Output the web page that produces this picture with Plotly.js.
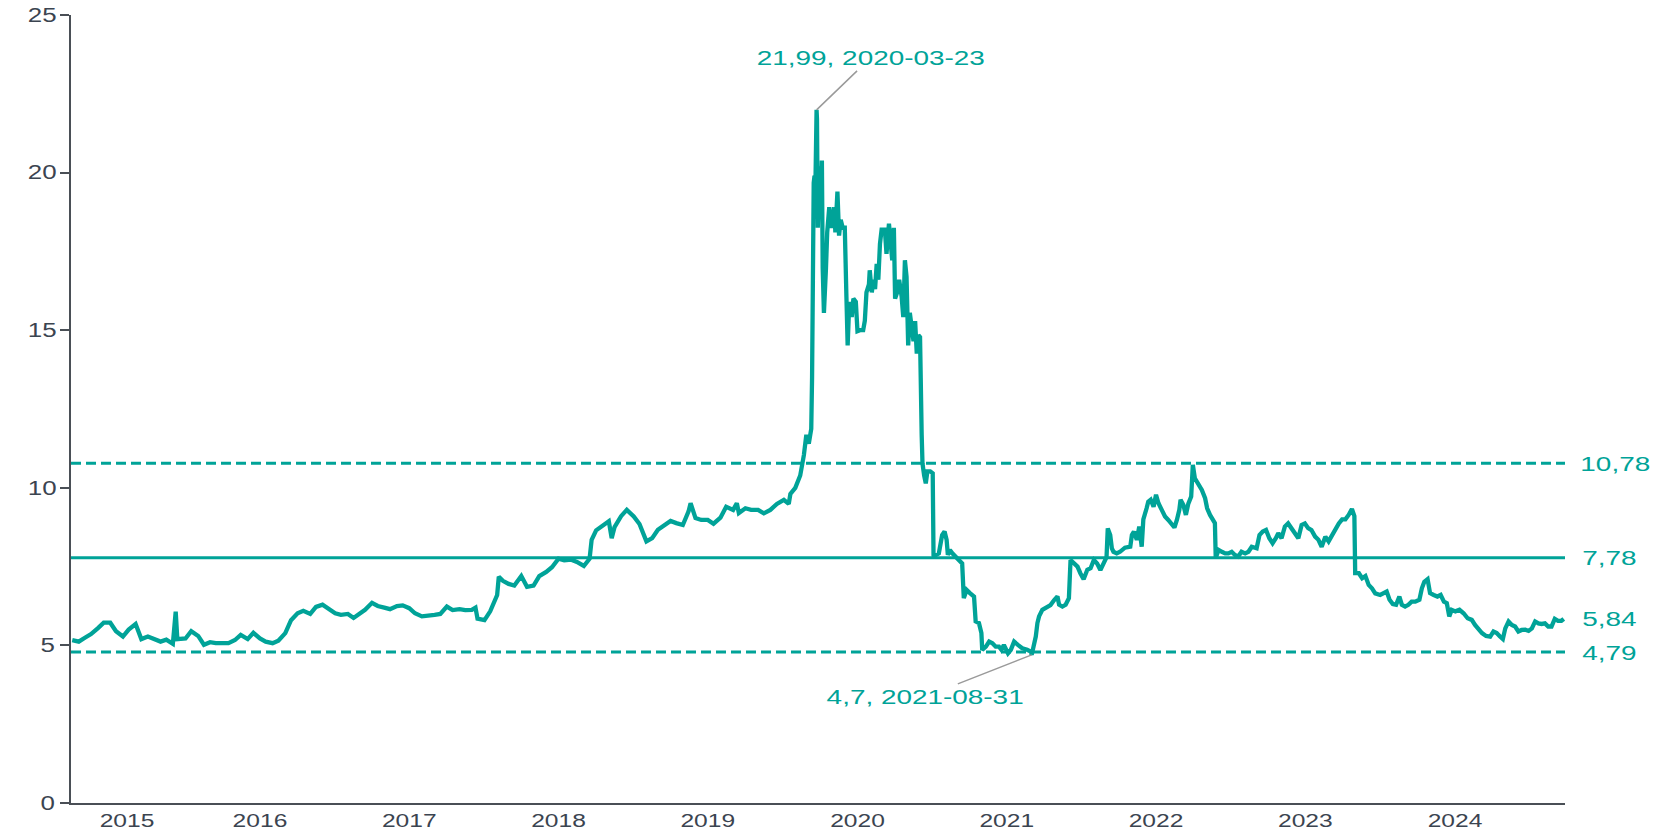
<!DOCTYPE html>
<html>
<head>
<meta charset="utf-8">
<script src="https://cdn.plot.ly/plotly-3.0.1.min.js"></script>
<style>
html,body{margin:0;padding:0;background:#fff;}
#chart{width:1657px;height:832px;}
</style>
</head>
<body>
<div id="chart"></div>
<script>
// ---- data ----
const dates = [
"2015-03-30","2015-04-15","2015-05-01","2015-05-15","2015-06-01","2015-06-15","2015-07-01","2015-07-15","2015-08-01","2015-08-15",
"2015-09-01","2015-09-15","2015-10-01","2015-10-15","2015-11-01","2015-11-15","2015-12-01","2015-12-08","2015-12-12","2016-01-01",
"2016-01-15","2016-02-01","2016-02-15","2016-03-01","2016-03-15","2016-04-01","2016-04-15","2016-05-01","2016-05-15","2016-06-01",
"2016-06-15","2016-07-01","2016-07-15","2016-08-01","2016-08-15","2016-09-01","2016-09-15","2016-10-01","2016-10-15","2016-11-01",
"2016-11-15","2016-12-01","2016-12-15","2017-01-01","2017-01-15","2017-02-01","2017-02-15","2017-03-01","2017-03-15","2017-04-01",
"2017-04-15","2017-05-01","2017-05-15","2017-06-01","2017-06-15","2017-07-01","2017-07-15","2017-08-01","2017-08-15","2017-09-01",
"2017-09-15","2017-10-01","2017-10-15","2017-11-01","2017-11-15","2017-12-01","2017-12-10","2017-12-15","2018-01-01","2018-01-15",
"2018-02-01","2018-02-05","2018-02-15","2018-03-01","2018-03-15","2018-04-01","2018-04-15","2018-05-01","2018-05-15","2018-06-01",
"2018-06-15","2018-07-01","2018-07-15","2018-08-01","2018-08-15","2018-09-01","2018-09-15","2018-09-20","2018-10-01","2018-10-15",
"2018-11-01","2018-11-08","2018-11-15","2018-12-01","2018-12-15","2019-01-01","2019-01-15","2019-02-01","2019-02-15","2019-03-01",
"2019-03-15","2019-04-01","2019-04-15","2019-05-01","2019-05-15","2019-05-20","2019-06-01","2019-06-15","2019-07-01","2019-07-15",
"2019-08-01","2019-08-15","2019-09-01","2019-09-10","2019-09-15","2019-10-01","2019-10-15","2019-11-01","2019-11-15","2019-12-01",
"2019-12-17","2020-01-03","2020-01-15","2020-01-19","2020-01-31","2020-02-12","2020-02-21","2020-02-27","2020-03-04","2020-03-10",
"2020-03-12","2020-03-13","2020-03-16","2020-03-18","2020-03-19","2020-03-23","2020-03-24","2020-03-26","2020-03-30","2020-04-02",
"2020-04-05","2020-04-07","2020-04-10","2020-04-15","2020-04-18","2020-04-23","2020-04-27","2020-05-01","2020-05-05","2020-05-08",
"2020-05-13","2020-05-17","2020-05-21","2020-05-26","2020-05-31","2020-06-04","2020-06-07","2020-06-11","2020-06-17","2020-06-21",
"2020-06-27","2020-07-01","2020-07-07","2020-07-15","2020-07-19","2020-07-23","2020-07-29","2020-07-31","2020-08-05","2020-08-09",
"2020-08-13","2020-08-17","2020-08-21","2020-08-25","2020-08-29","2020-09-06","2020-09-10","2020-09-16","2020-09-20","2020-09-24",
"2020-09-28","2020-10-01","2020-10-06","2020-10-11","2020-10-17","2020-10-21","2020-10-25","2020-10-29","2020-11-02","2020-11-06",
"2020-11-10","2020-11-15","2020-11-19","2020-11-23","2020-11-27","2020-12-01","2020-12-05","2020-12-07","2020-12-11","2020-12-15",
"2020-12-19","2020-12-26","2021-01-01","2021-01-03","2021-01-16","2021-01-24","2021-01-30","2021-02-04","2021-02-07","2021-02-12",
"2021-02-18","2021-02-26","2021-03-06","2021-03-14","2021-03-18","2021-03-25","2021-04-02","2021-04-12","2021-04-16","2021-04-24",
"2021-04-30","2021-05-02","2021-05-11","2021-05-19","2021-05-27","2021-06-04","2021-06-12","2021-06-18","2021-06-24","2021-07-04",
"2021-07-11","2021-07-19","2021-07-29","2021-08-08","2021-08-20","2021-08-29","2021-08-31","2021-09-10","2021-09-14","2021-09-18",
"2021-09-26","2021-10-08","2021-10-16","2021-10-25","2021-11-02","2021-11-06","2021-11-14","2021-11-22","2021-11-30","2021-12-04",
"2021-12-12","2021-12-21","2021-12-28","2022-01-05","2022-01-14","2022-01-22","2022-01-30","2022-02-07","2022-02-15","2022-02-23",
"2022-03-02","2022-03-05","2022-03-11","2022-03-15","2022-03-19","2022-03-27","2022-04-04","2022-04-16","2022-04-29","2022-05-03",
"2022-05-08","2022-05-15","2022-05-21","2022-05-27","2022-05-31","2022-06-08","2022-06-12","2022-06-18","2022-06-25","2022-07-01",
"2022-07-07","2022-07-15","2022-07-23","2022-07-31","2022-08-08","2022-08-15","2022-08-21","2022-08-27","2022-08-30","2022-09-06",
"2022-09-12","2022-09-18","2022-09-25","2022-09-29","2022-10-04","2022-10-12","2022-10-21","2022-10-29","2022-11-03","2022-11-10",
"2022-11-17","2022-11-22","2022-11-24","2022-12-01","2022-12-09","2022-12-17","2022-12-25","2023-01-02","2023-01-10","2023-01-18",
"2023-01-26","2023-02-04","2023-02-12","2023-02-20","2023-03-04","2023-03-11","2023-03-19","2023-03-27","2023-04-04","2023-04-12",
"2023-04-20","2023-04-26","2023-05-04","2023-05-12","2023-05-20","2023-05-29","2023-06-06","2023-06-14","2023-06-22","2023-06-30",
"2023-07-08","2023-07-16","2023-07-25","2023-08-02","2023-08-10","2023-08-19","2023-08-27","2023-09-04","2023-09-13","2023-09-21",
"2023-09-29","2023-10-07","2023-10-15","2023-10-23","2023-10-29","2023-10-31","2023-11-09","2023-11-17","2023-11-25","2023-12-03",
"2023-12-11","2023-12-19","2023-12-31","2024-01-08","2024-01-16","2024-01-23","2024-01-31","2024-02-08","2024-02-16","2024-02-22",
"2024-03-01","2024-03-09","2024-03-17","2024-03-26","2024-04-05","2024-04-11","2024-04-17","2024-04-25","2024-05-01","2024-05-10",
"2024-05-19","2024-05-27","2024-06-04","2024-06-11","2024-06-17","2024-06-23","2024-07-02","2024-07-12","2024-07-22","2024-08-01",
"2024-08-11","2024-08-19","2024-08-28","2024-09-05","2024-09-15","2024-09-25","2024-10-03","2024-10-11","2024-10-19","2024-10-26",
"2024-11-01","2024-11-09","2024-11-17","2024-11-25","2024-12-03","2024-12-11","2024-12-20","2024-12-28","2025-01-05","2025-01-13",
"2025-01-21","2025-01-29","2025-02-06","2025-02-14","2025-02-22","2025-03-02","2025-03-10","2025-03-18","2025-03-24"
];
const values = [
5.17,5.12,5.25,5.36,5.55,5.72,5.72,5.45,5.28,5.5,
5.68,5.2,5.28,5.2,5.12,5.18,5.05,6.07,5.2,5.22,
5.45,5.3,5.02,5.1,5.07,5.07,5.07,5.17,5.33,5.2,
5.4,5.22,5.12,5.07,5.15,5.39,5.8,6.02,6.1,6.0,
6.22,6.29,6.18,6.02,5.97,6.0,5.87,6.0,6.13,6.35,
6.25,6.2,6.15,6.25,6.27,6.18,6.02,5.92,5.93,5.97,
6.0,6.23,6.12,6.15,6.12,6.13,6.2,5.85,5.8,6.08,
6.6,7.18,7.05,6.95,6.9,7.2,6.86,6.9,7.2,7.33,
7.48,7.75,7.7,7.72,7.65,7.52,7.75,8.35,8.65,8.78,
8.94,8.4,8.75,9.1,9.3,9.09,8.85,8.3,8.4,8.67,
8.8,8.95,8.88,8.82,9.25,9.51,9.04,8.98,8.98,8.86,
9.05,9.4,9.3,9.51,9.2,9.35,9.3,9.3,9.19,9.3,
9.49,9.62,9.49,9.81,10.0,10.39,11.04,11.68,11.4,11.87,
13.5,15.5,19.67,19.9,18.6,21.99,21.7,18.25,20.2,18.77,
20.38,16.97,15.55,16.97,18.1,18.9,18.25,18.5,18.9,18.1,
19.4,18.0,18.5,18.25,18.25,16.06,14.52,15.9,15.42,16.0,
15.9,14.97,15.0,15.0,15.3,16.2,16.45,16.9,16.2,16.6,
16.3,17.1,16.6,17.74,18.19,18.19,17.42,18.38,17.74,17.22,
18.25,16.0,16.2,16.6,16.06,15.42,17.22,16.7,14.52,15.55,
15.16,14.65,15.29,14.26,14.84,14.78,11.68,10.78,10.39,10.14,
10.52,10.52,10.46,7.82,7.92,8.5,8.61,8.35,7.87,8.03,
7.92,7.82,7.71,7.6,6.5,6.76,6.66,6.55,5.76,5.71,
5.39,4.86,4.96,5.12,5.07,4.96,4.96,4.86,5.01,4.75,
4.86,5.12,5.01,4.91,4.86,4.8,4.7,5.28,5.71,5.92,
6.13,6.23,6.28,6.44,6.55,6.29,6.23,6.29,6.5,7.71,
7.6,7.5,7.29,7.1,7.4,7.45,7.71,7.6,7.39,7.6,
7.8,8.71,8.5,8.08,7.97,7.92,7.97,8.1,8.13,8.5,
8.61,8.35,8.77,8.13,9.0,9.35,9.56,9.62,9.4,9.78,
9.51,9.3,9.09,8.98,8.82,8.74,8.98,9.3,9.62,9.45,
9.14,9.5,9.72,10.73,10.3,10.14,9.93,9.67,9.35,9.14,
8.98,8.88,7.77,8.03,7.97,7.92,7.92,7.97,7.87,7.82,
7.97,7.92,7.97,8.13,8.08,8.5,8.61,8.66,8.4,8.24,
8.4,8.56,8.4,8.77,8.87,8.72,8.56,8.4,8.82,8.87,
8.72,8.66,8.45,8.35,8.13,8.45,8.3,8.5,8.66,8.87,
9.0,9.0,9.14,9.33,9.1,7.29,7.29,7.13,7.2,6.92,
6.81,6.65,6.6,6.66,6.71,6.45,6.31,6.29,6.55,6.29,
6.23,6.29,6.39,6.39,6.45,6.81,7.02,7.1,6.66,6.6,
6.55,6.6,6.39,6.34,5.92,6.13,6.08,6.13,6.02,5.86,
5.81,5.65,5.49,5.39,5.3,5.28,5.44,5.39,5.28,5.2,
5.54,5.76,5.65,5.6,5.44,5.49,5.5,5.46,5.54,5.76,
5.7,5.68,5.7,5.6,5.6,5.84,5.78,5.78,5.84
];
const refLevels = [10.78, 7.78, 4.79];
const refDashes = ["dash", "solid", "dash"];
const sideLabels = ["10,78", "7,78", "5,84", "4,79"];
const sideLabelValues = [10.78, 7.78, 5.84, 4.79];
const yTicks = [0, 5, 10, 15, 20, 25];
const xTickDates = ["2015-08-11","2016-07-01","2017-07-01","2018-07-01","2019-07-01","2020-07-01","2021-07-01","2022-07-01","2023-07-01","2024-07-01"];
const xTickLabels = ["2015","2016","2017","2018","2019","2020","2021","2022","2023","2024"];
const peak = {date: "2020-03-23", value: 21.99, label: "21,99, 2020-03-23"};
const trough = {date: "2021-08-31", value: 4.7, label: "4,7, 2021-08-31"};

// ---- styling ----
const TEAL = "#00a398";
const AXIS = "#4a4f56";
const TXT = "#3b4450";
const FONT = "Liberation Sans, Arial, sans-serif";

const shapes = refLevels.map((v, i) => ({
  type: "line", xref: "paper", x0: 0, x1: 1, yref: "y", y0: v, y1: v,
  layer: "below",
  line: {color: TEAL, width: 3, dash: refDashes[i] === "dash" ? "10px,5px" : "solid"}
}));

const annotations = sideLabels.map((t, i) => ({
  xref: "paper", x: 1, xanchor: "left", xshift: 22,
  yref: "y", y: sideLabelValues[i], yanchor: "middle",
  text: t, showarrow: false,
  font: {family: FONT, size: 21, color: TEAL}
}));
annotations.push({
  x: peak.date, y: peak.value, xref: "x", yref: "y",
  text: peak.label, showarrow: true, arrowhead: 0, arrowwidth: 1.5, arrowcolor: "#9a9a9a",
  ax: 54, ay: -52, standoff: 0,
  font: {family: FONT, size: 21, color: TEAL}
});
annotations.push({
  x: trough.date, y: trough.value, xref: "x", yref: "y",
  text: trough.label, showarrow: true, arrowhead: 0, arrowwidth: 1.5, arrowcolor: "#9a9a9a",
  ax: -107, ay: 42, standoff: 0,
  font: {family: FONT, size: 21, color: TEAL}
});

const trace = {
  x: dates, y: values, type: "scatter", mode: "lines",
  line: {color: TEAL, width: 4.3},
  hoverinfo: "skip", showlegend: false
};

const layout = {
  width: 1657, height: 832,
  margin: {l: 71, r: 92, t: 15, b: 29, pad: 0},
  paper_bgcolor: "#ffffff", plot_bgcolor: "#ffffff",
  showlegend: false,
  xaxis: {
    type: "date", range: ["2015-03-27", "2025-03-27"],
    showgrid: false, zeroline: false,
    showline: true, linecolor: AXIS, linewidth: 2,
    ticks: "", tickmode: "array", tickvals: xTickDates, ticktext: xTickLabels,
    tickfont: {family: FONT, size: 18.5, color: TXT},
    ticklabelstandoff: 0
  },
  yaxis: {
    range: [0, 25], showgrid: false, zeroline: false,
    showline: true, linecolor: AXIS, linewidth: 2,
    ticks: "outside", ticklen: 9, tickwidth: 2, tickcolor: AXIS,
    tickmode: "array", tickvals: yTicks, ticktext: yTicks.map(String),
    tickfont: {family: FONT, size: 19.5, color: TXT},
    ticklabelstandoff: 3
  },
  shapes: shapes,
  annotations: annotations
};

// widen text glyphs horizontally (reference text is horizontally stretched)
function stretchText(s) {
  const svgNS = "http://www.w3.org/2000/svg";
  document.querySelectorAll("#chart svg text").forEach(t => {
    if (!t.textContent.trim()) return;
    const r = t.getBoundingClientRect();
    const m = t.parentNode.getScreenCTM();
    if (!m) return;
    const cx = (r.left + r.width / 2 - m.e) / m.a;
    const g = document.createElementNS(svgNS, "g");
    g.setAttribute("transform", "translate(" + cx + ",0) scale(" + s + ",1) translate(" + (-cx) + ",0)");
    t.parentNode.insertBefore(g, t);
    g.appendChild(t);
  });
}

Plotly.newPlot("chart", [trace], layout, {displayModeBar: false, staticPlot: true})
  .then(() => stretchText(1.33));
</script>
</body>
</html>
